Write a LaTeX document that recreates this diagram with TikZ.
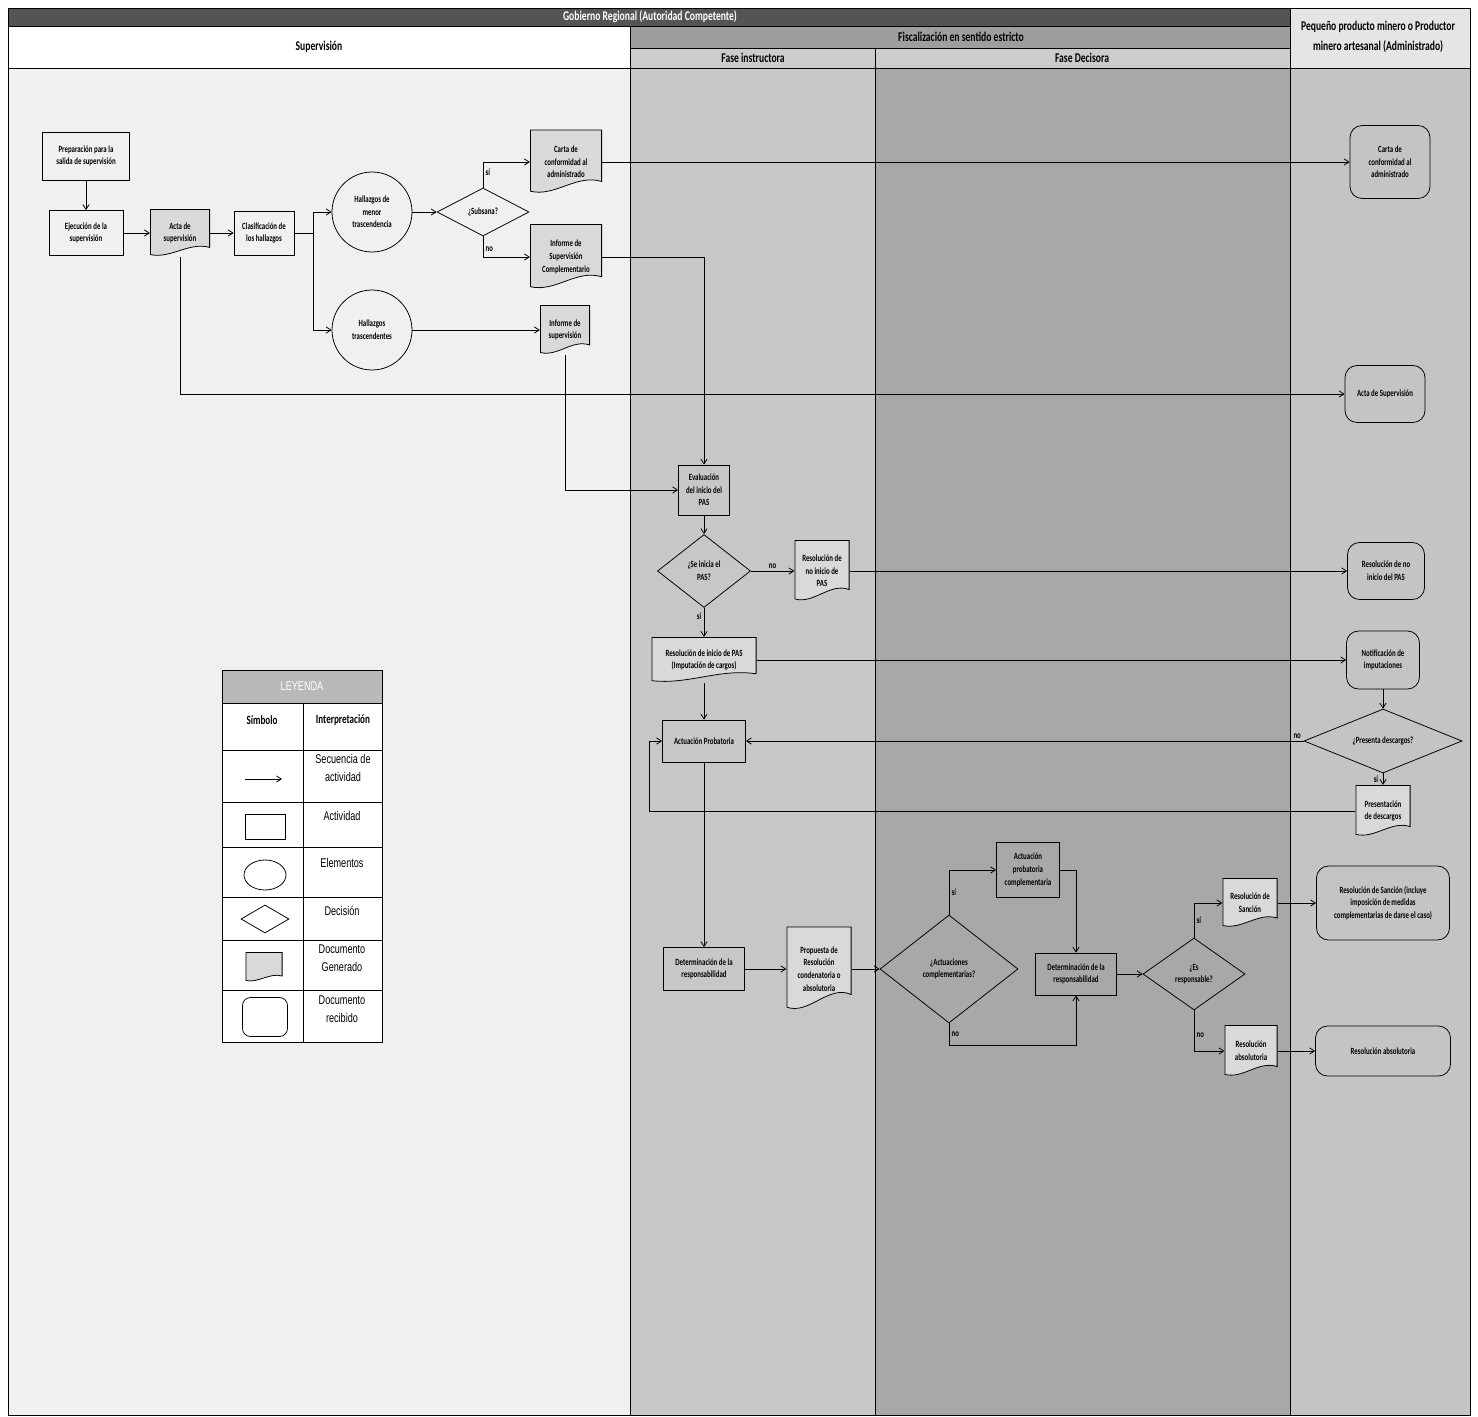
\documentclass[tikz,border=0pt]{standalone}
\usepackage{fontspec}
\setmainfont{Carlito}
\newfontfamily\flowfont[FakeStretch=0.72]{Carlito}
\newfontfamily\legfont[FakeStretch=0.72]{Liberation Sans}
\usepackage{tikz}
\usetikzlibrary{shapes.geometric,arrows.meta,positioning,calc}
\usepackage{xcolor}

\definecolor{supfill}{gray}{0.94}
\definecolor{instfill}{gray}{0.78}
\definecolor{decfill}{gray}{0.66}
\definecolor{admfill}{gray}{0.77}
\definecolor{barfill}{gray}{0.33}
\definecolor{fiscfill}{gray}{0.62}
\definecolor{fasefill}{gray}{0.80}
\definecolor{docfill}{gray}{0.85}

\begin{document}
\begin{tikzpicture}[
    x=0.05cm, y=-0.05cm,
    every node/.style={font=\flowfont\bfseries\fontsize{13.5}{18}\selectfont},
    act/.style={rectangle, draw, line width=1.1pt, align=center, inner sep=2pt},
    docgen/.style={rectangle, align=center, inner sep=2pt,
        path picture={
            \draw[fill=docfill, line width=1.1pt]
                let \p1=(path picture bounding box.south west),
                    \p2=(path picture bounding box.north east) in
                ({\x1+0.55pt},{\y2-0.55pt}) -- ({\x2-0.55pt},{\y2-0.55pt})
                -- ({\x2-0.55pt},{\y1+0.2*(\y2-\y1)})
                .. controls ({\x1+0.65*(\x2-\x1)},{\y1+0.32*(\y2-\y1)}) and ({\x1+0.35*(\x2-\x1)},{\y1-0.04*(\y2-\y1)}) .. ({\x1+0.55pt},{\y1+0.05*(\y2-\y1)})
                -- cycle;
        }},
    docrec/.style={rectangle, draw, line width=1.1pt, rounded corners=0.6cm, align=center},
    elem/.style={circle, draw, line width=1.1pt, align=center, minimum size=4cm, inner sep=0pt},
    decision/.style={diamond, draw, line width=1.1pt, align=center, inner sep=0pt},
    arrow/.style={-{Straight Barb[length=7pt,width=9pt]}, line width=1.1pt},
    yesno/.style={font=\flowfont\bfseries\fontsize{13.5}{16}\selectfont},
    lanehead/.style={font=\flowfont\bfseries\fontsize{19}{28}\selectfont, align=center},
    legtext/.style={font=\legfont\fontsize{18}{25}\selectfont, align=center}
]
\useasboundingbox (0,0) rectangle (1478,1417);

% ============ LANES ============
\fill[supfill] (8,68) rectangle (630,1415);
\fill[instfill] (630,68) rectangle (875,1415);
\fill[decfill] (875,68) rectangle (1290,1415);
\fill[admfill] (1290,68) rectangle (1470,1415);

% Headers
\fill[barfill] (8,8) rectangle (1290,26);
\fill[white] (8,26) rectangle (630,68);
\fill[fiscfill] (630,26) rectangle (1290,48);
\fill[fasefill] (630,48) rectangle (1290,68);
\fill[gray!20] (1290,8) rectangle (1470,68);

\draw[line width=0.8pt] (8,26) -- (1290,26);
\draw[line width=0.8pt] (630,48) -- (1290,48);
\draw[line width=0.8pt] (8,68) -- (1470,68);
\draw[line width=0.8pt] (630,26) -- (630,1415);
\draw[line width=0.8pt] (875,48) -- (875,1415);
\draw[line width=0.8pt] (1290,8) -- (1290,1415);
\draw[line width=1.4pt] (8,8) rectangle (1470,1415);

\node[lanehead, text=white] (gobierno) at (650,17) {Gobierno Regional (Autoridad Competente)};
\node[lanehead] (supervision) at (319,47) {Supervisión};
\node[lanehead] (fiscalizacion) at (961,37) {Fiscalización en sentido estricto};
\node[lanehead] (instructora) at (753,58) {Fase instructora};
\node[lanehead] (decisora) at (1082,58) {Fase Decisora};
\node[lanehead] (administrado) at (1378,37) {Pequeño producto minero o Productor\\minero artesanal (Administrado)};

% ============ SUPERVISION ============
\node[act, minimum width=4.35cm, minimum height=2.4cm] (prep) at (86,156) {Preparación para la\\salida de supervisión};
\node[act, minimum width=3.7cm, minimum height=2.25cm] (ejec) at (86,233) {Ejecución de la\\supervisión};
\node[docgen, minimum width=3cm, minimum height=2.4cm] (acta) at (180,233) {Acta de\\supervisión};
\node[act, minimum width=3cm, minimum height=2.2cm] (clasif) at (264,233) {Clasificación de\\los hallazgos};
\node[elem] (hmenor) at (372,212) {Hallazgos de\\menor\\trascendencia};
\node[elem] (htras) at (372,330) {Hallazgos\\trascendentes};
\node[decision, minimum width=4.6cm, minimum height=2.4cm, aspect=1.9] (subsana) at (483,212) {¿Subsana?};
\node[docgen, minimum width=3.6cm, minimum height=3.25cm] (carta) at (566,162) {Carta de\\conformidad al\\administrado};
\node[docgen, minimum width=3.6cm, minimum height=3.3cm] (infcomp) at (566,257) {Informe de\\Supervisión\\Complementario};
\node[docgen, minimum width=2.5cm, minimum height=2.5cm] (infsup) at (565,330) {Informe de\\supervisión};

% Arrows
\draw[arrow] (prep) -- (ejec);
\draw[arrow] (ejec) -- (acta);
\draw[arrow] (acta) -- (clasif);
\draw[arrow] (clasif.east) -- ++(19,0) coordinate (split) |- (hmenor.west);
\draw[arrow] (split) |- (htras.west);
\draw[arrow] (hmenor) -- (subsana);
\draw[arrow] (subsana.north) |- (carta.west) node[yesno, pos=0.3, right] {sí};
\draw[arrow] (subsana.south) |- (infcomp.west) node[yesno, pos=0.3, right] {no};
\draw[arrow] (htras) -- (infsup);

% ============ FASE INSTRUCTORA ============
\node[act, minimum width=2.55cm, minimum height=2.5cm] (eval) at (704,490) {Evaluación\\del inicio del\\PAS};
\node[decision, minimum width=4.65cm, minimum height=3.65cm, aspect=1.27] (seinicia) at (704,571) {¿Se inicia el\\PAS?};
\node[docgen, minimum width=2.75cm, minimum height=3.1cm] (resnoini) at (822,571) {Resolución de\\no inicio de\\PAS};
\node[docgen, minimum width=5.25cm, minimum height=2.3cm] (resini) at (704,660) {Resolución de inicio de PAS\\(Imputación de cargos)};
\node[act, minimum width=4.15cm, minimum height=2.1cm] (actprob) at (704,741) {Actuación Probatoria};
\node[act, minimum width=4.05cm, minimum height=2.15cm] (detresp1) at (704,969) {Determinación de la\\responsabilidad};
\node[docgen, minimum width=3.25cm, minimum height=4.25cm] (propuesta) at (819,969) {Propuesta de\\Resolución\\condenatoria o\\absolutoria};

% ============ FASE DECISORA ============
\node[decision, minimum width=6.9cm, minimum height=5.4cm, aspect=1.28] (actcomp) at (949,969) {¿Actuaciones\\complementarias?};
\node[act, minimum width=3.15cm, minimum height=2.75cm] (actprobcomp) at (1028,870) {Actuación\\probatoria\\complementaria};
\node[act, minimum width=4.05cm, minimum height=2.1cm] (detresp2) at (1076,974) {Determinación de la\\responsabilidad};
\node[decision, minimum width=5.1cm, minimum height=3.6cm, aspect=1.42] (esresp) at (1194,974) {¿Es\\responsable?};
\node[docgen, minimum width=2.75cm, minimum height=2.5cm] (ressancion) at (1250,903) {Resolución de\\Sanción};
\node[docgen, minimum width=2.65cm, minimum height=2.6cm] (resabs) at (1251,1051) {Resolución\\absolutoria};

% ============ ADMINISTRADO ============
\node[docrec, minimum width=4cm, minimum height=3.65cm] (rcarta) at (1390,162) {Carta de\\conformidad al\\administrado};
\node[docrec, minimum width=4cm, minimum height=2.85cm] (racta) at (1385,394) {Acta de Supervisión};
\node[docrec, minimum width=3.85cm, minimum height=2.85cm] (rnoini) at (1386,571) {Resolución de no\\inicio del PAS};
\node[docrec, minimum width=3.65cm, minimum height=2.9cm] (rnotif) at (1383,660) {Notificación de\\imputaciones};
\node[decision, minimum width=7.9cm, minimum height=3.2cm, aspect=2.47] (presenta) at (1383,741) {¿Presenta descargos?};
\node[docgen, minimum width=2.75cm, minimum height=2.6cm] (presdesc) at (1383,811) {Presentación\\de descargos};
\node[docrec, minimum width=6.65cm, minimum height=3.7cm] (rsancion) at (1383,903) {Resolución de Sanción (incluye\\imposición de medidas\\complementarias de darse el caso)};
\node[docrec, minimum width=6.75cm, minimum height=2.5cm] (rabs) at (1383,1051) {Resolución absolutoria};

% Arrows
\draw[arrow] (carta) -- (rcarta);
\draw[arrow] (acta.south) |- (racta.west);
\draw[arrow] (infcomp.east) -| (eval.north);
\draw[arrow] (infsup.south) |- (eval.west);
\draw[arrow] (eval) -- (seinicia);
\draw[arrow] (seinicia) -- (resnoini) node[yesno, midway, above] {no};
\draw[arrow] (seinicia) -- (resini) node[yesno, pos=0.3, left] {sí};
\draw[arrow] (resnoini) -- (rnoini);
\draw[arrow] (resini) -- (rnotif);
\draw[arrow] (resini) -- (actprob);
\draw[arrow] (rnotif) -- (presenta);
\draw[arrow] (presenta) -- (actprob) node[yesno, pos=0.0, above left] {no};
\draw[arrow] (presenta) -- (presdesc) node[yesno, midway, left=3pt] {sí};
\draw[arrow] (presdesc.west) -| ([xshift=-0.65cm]actprob.west) -- (actprob.west);
\draw[arrow] (actprob) -- (detresp1);
\draw[arrow] (detresp1) -- (propuesta);
\draw[arrow] (propuesta) -- (actcomp);
\draw[arrow] (actcomp.north) |- (actprobcomp.west) node[yesno, pos=0.25, right] {sí};
\draw[arrow] (actprobcomp.east) -| (detresp2.north);
\draw[arrow] (actcomp.south) -- ++(0,22) node[yesno, midway, right] {no} -| (detresp2.south);
\draw[arrow] (detresp2) -- (esresp);
\draw[arrow] (esresp.north) |- (ressancion.west) node[yesno, pos=0.25, right] {sí};
\draw[arrow] (esresp.south) |- (resabs.west) node[yesno, pos=0.3, right] {no};
\draw[arrow] (ressancion) -- (rsancion);
\draw[arrow] (resabs) -- (rabs);

% ============ LEYENDA ============
\fill[white] (222,670) rectangle (382,1042);
\fill[gray!55] (222,670) rectangle (382,703);
\draw[line width=0.8pt] (222,670) rectangle (382,1042);
\draw[line width=0.8pt] (222,703) -- (382,703);
\draw[line width=0.8pt] (303,703) -- (303,1042);
\foreach \yrow in {750,802,847,897,940,990}
    \draw[line width=0.8pt] (222,\yrow) -- (382,\yrow);

\node[legtext, text=white] (leyenda) at (302,686) {LEYENDA};
\node[legtext, font=\flowfont\bfseries\fontsize{18}{25}\selectfont] (simbolo) at (262,720) {Símbolo};
\node[legtext, font=\flowfont\bfseries\fontsize{18}{25}\selectfont] (interp) at (343,720) {Interpretación};
\node[legtext] (lsec) at (343,768) {Secuencia de\\actividad};
\node[legtext] (lact) at (342,816) {Actividad};
\node[legtext] (lelem) at (342,863) {Elementos};
\node[legtext] (ldec) at (342,911) {Decisión};
\node[legtext] (ldocg) at (342,958) {Documento\\Generado};
\node[legtext] (ldocr) at (342,1009) {Documento\\recibido};

\coordinate (larrowa) at (245,779);
\coordinate (larrowb) at (282,779);
\draw[arrow] (larrowa) -- (larrowb);
\node[act, minimum width=2cm, minimum height=1.25cm] (sact) at (265,827) {};
\node[ellipse, draw, line width=1.1pt, minimum width=2.1cm, minimum height=1.5cm] (selem) at (265,875) {};
\node[decision, minimum width=2.4cm, minimum height=1.4cm] (sdec) at (265,919) {};
\node[docgen, minimum width=1.85cm, minimum height=1.5cm] (sdocg) at (264,967) {};
\node[docrec, minimum width=2.25cm, minimum height=1.95cm, rounded corners=0.4cm] (sdocr) at (265,1017) {};

\end{tikzpicture}
\end{document}
